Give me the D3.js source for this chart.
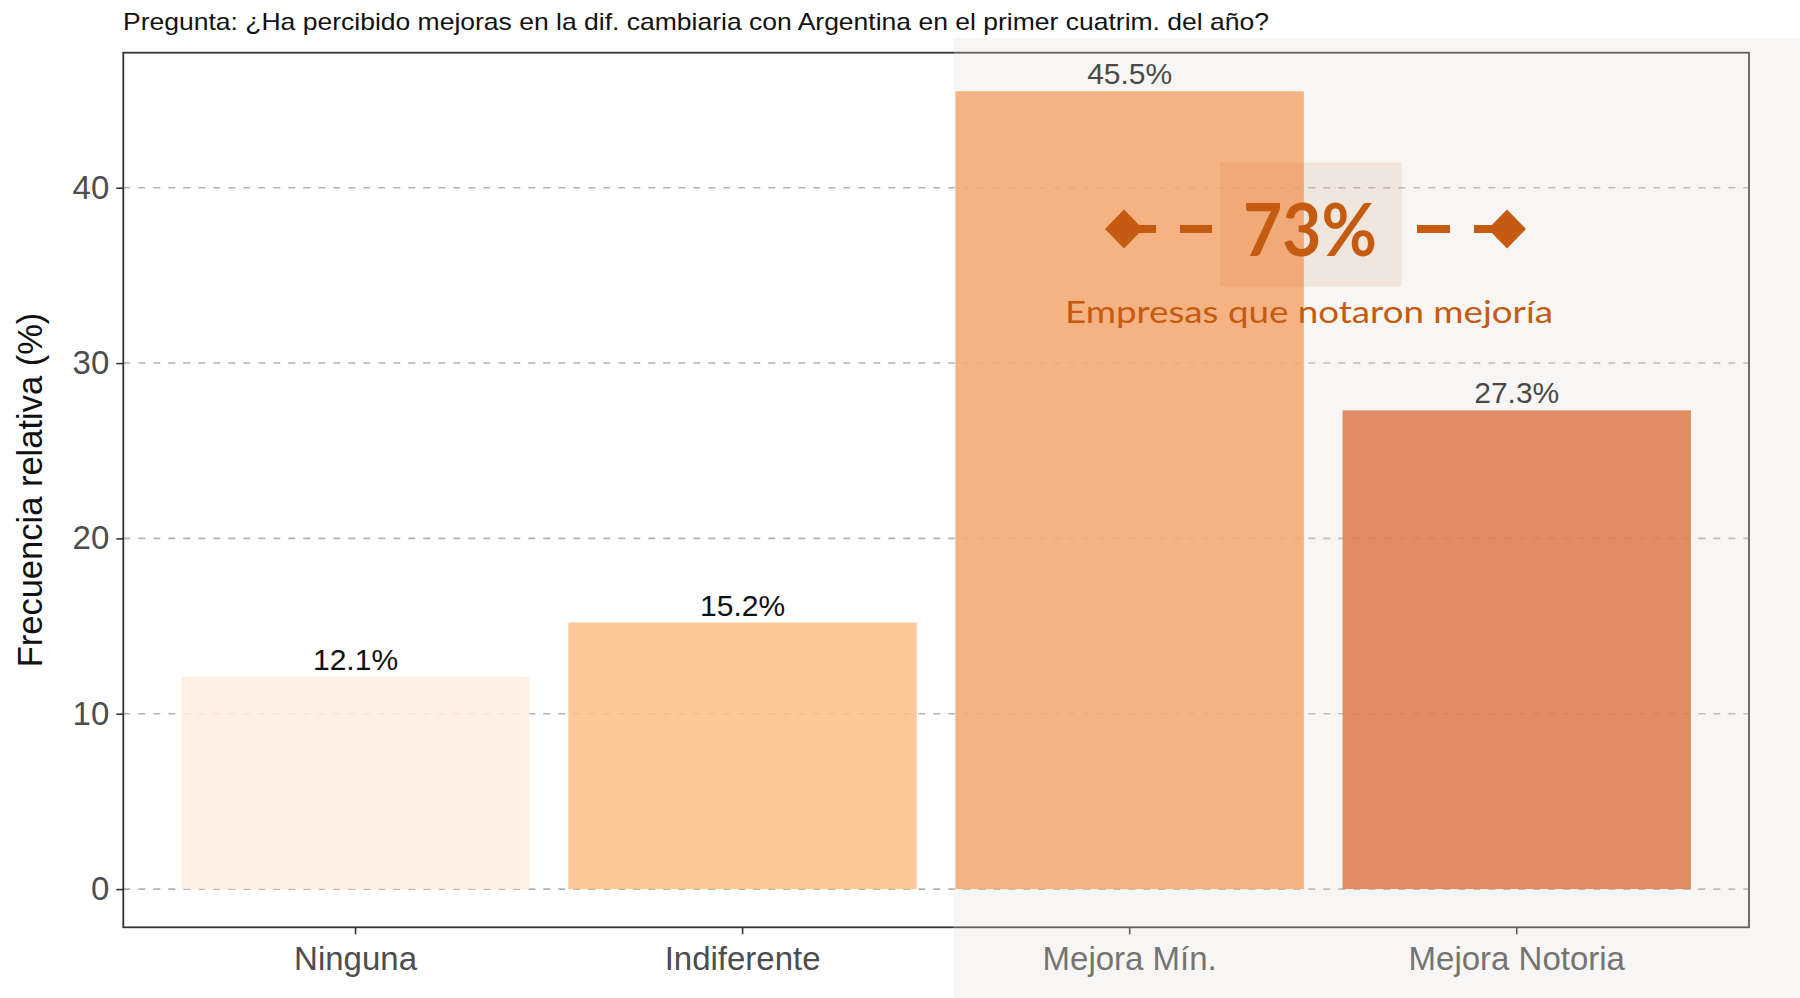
<!DOCTYPE html>
<html>
<head>
<meta charset="utf-8">
<script src="https://cdn.jsdelivr.net/npm/d3@7"></script>
<style>
  html, body { margin: 0; padding: 0; background: #ffffff; }
  svg { display: block; }
</style>
</head>
<body>
<svg id="chart" width="1800" height="998"></svg>
<script>
// ---- data ----
const title = "Pregunta: ¿Ha percibido mejoras en la dif. cambiaria con Argentina en el primer cuatrim. del año?";
const categories = ["Ninguna", "Indiferente", "Mejora Mín.", "Mejora Notoria"];
const values = [12.1, 15.2, 45.5, 27.3];
const valueLabels = ["12.1%", "15.2%", "45.5%", "27.3%"];
const barColors = ["#FEEDDE", "#FDBE85", "#FC944A", "#DC5617"];
const yTicks = [0, 10, 20, 30, 40];
const yTitle = "Frecuencia relativa (%)";
const yDomain = [-2.18, 47.7];
const highlightCategories = ["Mejora Mín.", "Mejora Notoria"];
const calloutValue = "73%";
const calloutText = "Empresas que notaron mejoría";

// ---- layout ----
const W = 1800, H = 998;
const panel = { left: 123.3, right: 1749, top: 52.7, bottom: 927.3 };
const accent = "#C55A11";

const svg = d3.select("#chart");

const x = d3.scaleBand()
  .domain(categories)
  .range([panel.left, panel.right])
  .paddingInner(0.1)
  .paddingOuter(0.15);

const y = d3.scaleLinear()
  .domain(yDomain)
  .range([panel.bottom, panel.top]);

// title
svg.append("text")
  .attr("x", 123)
  .attr("y", 30)
  .attr("font-family", "Liberation Sans, Arial, sans-serif")
  .attr("font-size", 24)
  .attr("fill", "#111")
  .attr("textLength", 1146)
  .attr("lengthAdjust", "spacingAndGlyphs")
  .text(title);

// gridlines
svg.append("g")
  .selectAll("line")
  .data(yTicks)
  .join("line")
  .attr("x1", panel.left)
  .attr("x2", panel.right)
  .attr("y1", d => y(d))
  .attr("y2", d => y(d))
  .attr("stroke", "#B3B3B3")
  .attr("stroke-width", 1.6)
  .attr("stroke-dasharray", "7 8");

// bars
svg.append("g")
  .selectAll("rect")
  .data(categories)
  .join("rect")
  .attr("x", d => x(d))
  .attr("width", x.bandwidth())
  .attr("y", (d, i) => y(values[i]))
  .attr("height", (d, i) => y(0) - y(values[i]))
  .attr("fill", (d, i) => barColors[i])
  .attr("fill-opacity", 0.85);

// value labels
svg.append("g")
  .selectAll("text")
  .data(categories)
  .join("text")
  .attr("x", d => x(d) + x.bandwidth() / 2)
  .attr("y", (d, i) => y(values[i]) - 7)
  .attr("text-anchor", "middle")
  .attr("font-family", "Liberation Sans, Arial, sans-serif")
  .attr("font-size", 30)
  .attr("fill", "#111")
  .text((d, i) => valueLabels[i]);

// panel border
svg.append("rect")
  .attr("x", panel.left)
  .attr("y", panel.top)
  .attr("width", panel.right - panel.left)
  .attr("height", panel.bottom - panel.top)
  .attr("fill", "none")
  .attr("stroke", "#333")
  .attr("stroke-width", 1.8);

// y axis
const yAxis = d3.axisLeft(y).tickValues(yTicks).tickSize(7).tickPadding(7).tickFormat(d3.format("d"));
const gy = svg.append("g").attr("transform", `translate(${panel.left},0)`).call(yAxis);
gy.select(".domain").remove();
gy.selectAll(".tick line").attr("stroke", "#333").attr("stroke-width", 1.6);
gy.selectAll(".tick text")
  .attr("font-family", "Liberation Sans, Arial, sans-serif")
  .attr("font-size", 33)
  .attr("fill", "#4D4D4D");

// x axis
const xAxis = d3.axisBottom(x).tickSize(7).tickPadding(12);
const gx = svg.append("g").attr("transform", `translate(0,${panel.bottom})`).call(xAxis);
gx.select(".domain").remove();
gx.selectAll(".tick line").attr("stroke", "#333").attr("stroke-width", 1.6);
gx.selectAll(".tick text")
  .attr("font-family", "Liberation Sans, Arial, sans-serif")
  .attr("font-size", 33)
  .attr("fill", "#4D4D4D");

// y title
svg.append("text")
  .attr("transform", `translate(42,${(panel.top + panel.bottom) / 2}) rotate(-90)`)
  .attr("text-anchor", "middle")
  .attr("font-family", "Liberation Sans, Arial, sans-serif")
  .attr("font-size", 34.5)
  .attr("fill", "#111")
  .text(yTitle);

// highlight overlay over the improvement categories
const hlLeft = x(highlightCategories[0]) - 2;
svg.append("rect")
  .attr("x", hlLeft)
  .attr("y", 38)
  .attr("width", W - hlLeft)
  .attr("height", H - 38)
  .attr("fill", "rgb(225,222,215)")
  .attr("fill-opacity", 0.27);

// callout
const cg = svg.append("g");
const cx = 1312, cy = 229;
cg.append("rect")
  .attr("x", 1220).attr("y", 162.7)
  .attr("width", 182).attr("height", 124)
  .attr("fill", accent).attr("fill-opacity", 0.1);

const leftD = cx - 188, rightD = cx + 195;
cg.append("line")
  .attr("x1", leftD).attr("x2", leftD + 89)
  .attr("y1", cy).attr("y2", cy)
  .attr("stroke", accent).attr("stroke-width", 8)
  .attr("stroke-dasharray", "32 24");
cg.append("line")
  .attr("x1", rightD).attr("x2", rightD - 90)
  .attr("y1", cy).attr("y2", cy)
  .attr("stroke", accent).attr("stroke-width", 8)
  .attr("stroke-dasharray", "33 24");

function diamond(px, py, hw, hh) {
  const p = d3.path();
  p.moveTo(px - hw, py);
  p.lineTo(px, py - hh);
  p.lineTo(px + hw, py);
  p.lineTo(px, py + hh);
  p.closePath();
  return p.toString();
}
cg.append("path").attr("d", diamond(leftD, cy, 19, 19.5)).attr("fill", accent);
cg.append("path").attr("d", diamond(rightD, cy, 19, 19.5)).attr("fill", accent);

cg.append("text")
  .attr("x", 1310).attr("y", 256)
  .attr("text-anchor", "middle")
  .attr("font-family", "Lato, 'Open Sans', sans-serif")
  .attr("font-weight", 700)
  .attr("font-size", 73)
  .attr("fill", accent)
  .attr("textLength", 134)
  .attr("lengthAdjust", "spacingAndGlyphs")
  .text(calloutValue);

cg.append("text")
  .attr("x", 1309).attr("y", 322.5)
  .attr("text-anchor", "middle")
  .attr("font-family", "Lato, 'Open Sans', sans-serif")
  .attr("font-size", 31)
  .attr("fill", accent)
  .attr("textLength", 488)
  .attr("lengthAdjust", "spacingAndGlyphs")
  .text(calloutText);
</script>
</body>
</html>
